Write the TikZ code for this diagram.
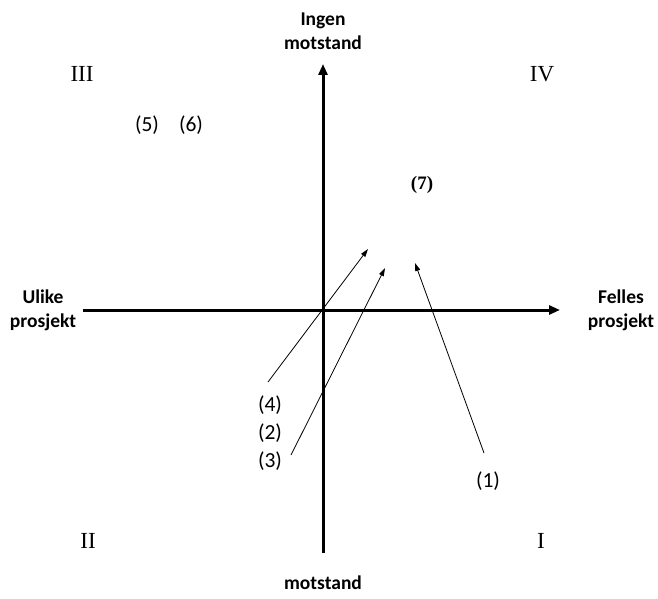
\documentclass[tikz,border=0pt]{standalone}
\usepackage{fontspec}
\setmainfont{Liberation Serif}
\newfontfamily\lblfont{Carlito}
\newfontfamily\numfont{Carlito}
\usetikzlibrary{arrows.meta}
\begin{document}
\begin{tikzpicture}[x=1pt,y=-1pt,
  axis/.style={line width=3pt,-{Triangle[length=11pt,width=9pt]}},
  thin/.style={line width=0.8pt,-{Triangle[length=8pt,width=5pt]}},
  axlbl/.style={font=\lblfont\bfseries\fontsize{19.5}{24}\selectfont,align=center,inner sep=0pt},
  roman/.style={font=\fontsize{23}{26}\selectfont,inner sep=0pt},
  num/.style={font=\numfont\fontsize{21.5}{24}\selectfont,inner sep=0pt}]
\useasboundingbox (0,0) rectangle (658,599);
% axes
\coordinate (vb) at (323,553);
\coordinate (vt) at (323,64);
\coordinate (hl) at (83,310);
\coordinate (hr) at (560,310);
\draw[axis] (vb) -- (vt);
\draw[axis] (hl) -- (hr);
% axis labels
\node[axlbl] (top) at (323,31) {Ingen\\motstand};
\node[axlbl] (bot) at (323,583) {motstand};
\node[axlbl] (left) at (43,310) {Ulike\\prosjekt};
\node[axlbl] (right) at (621,310) {Felles\\prosjekt};
% quadrant numerals
\node[roman] (q3) at (82,74) {III};
\node[roman] (q4) at (542,74) {IV};
\node[roman] (q2) at (88,541) {II};
\node[roman] (q1) at (541,541) {I};
% numbered items
\node[num] (n5) at (147,125) {(5)};
\node[num] (n6) at (191,125) {(6)};
\node[font=\bfseries\fontsize{19}{22}\selectfont,inner sep=0pt] (n7) at (422,185) {(7)};
\node[num] (n4) at (270,405) {(4)};
\node[num] (n2) at (270,433) {(2)};
\node[num] (n3) at (270,461) {(3)};
\node[num] (n1) at (488,481) {(1)};
% arrows
\coordinate (s4) at (268,382);
\coordinate (t4) at (368,249);
\coordinate (s3) at (291,455);
\coordinate (t3) at (385,268);
\coordinate (s1) at (484,453);
\coordinate (t1) at (415,263);
\draw[thin] (s4) -- (t4);
\draw[thin] (s3) -- (t3);
\draw[thin] (s1) -- (t1);
\end{tikzpicture}
\end{document}
